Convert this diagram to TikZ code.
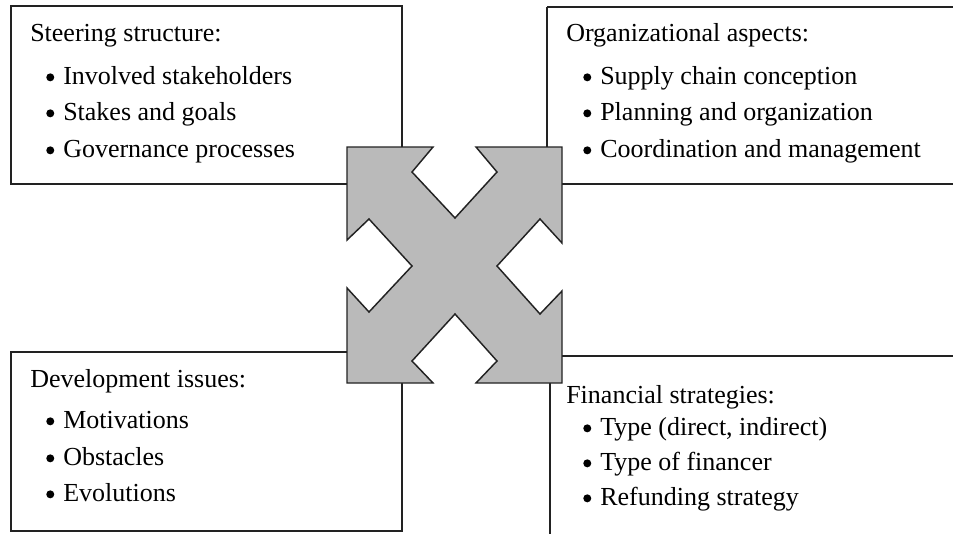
\documentclass[tikz,border=0pt]{standalone}
\usepackage{fontspec}
\setmainfont{Liberation Serif}
\definecolor{crossgray}{HTML}{BABABA}
\definecolor{linec}{HTML}{222222}
\tikzset{
  boxline/.style={draw=linec, line width=1pt},
  crossshape/.style={draw=linec, fill=crossgray, line width=1.1pt, line join=miter},
  txt/.style={anchor=base west, inner sep=0pt, font=\fontsize{19.5}{22}\selectfont, text=black},
}
\newcommand{\bul}{\makebox[17\unitlength][l]{\tikz[baseline=0pt]\fill (3.2pt,5pt) circle (3pt);}}
\setlength{\unitlength}{0.75pt}
\begin{document}
\begin{tikzpicture}[x=0.75pt,y=-0.75pt]
\useasboundingbox (0,0) rectangle (953,533);
\fill[white] (0,0) rectangle (953,533);
% boxes
\draw[boxline] (11,6) rectangle (402,184);
\draw[boxline] (547,7) -- (960,7);
\draw[boxline] (547,7) -- (547,184) -- (960,184);
\draw[boxline] (11,352) rectangle (402,531);
\draw[boxline] (960,356) -- (550,356) -- (550,540);
% cross
\draw[crossshape] (347,147) -- (433,147) -- (412,172) -- (455,218) -- (497,172) -- (476,147) -- (562,147)
  -- (562,243) -- (540,219) -- (497,266) -- (540,314) -- (562,291) -- (562,383)
  -- (476,383) -- (497,361) -- (455,314) -- (412,361) -- (433,383) -- (347,383)
  -- (347,288) -- (369,312) -- (412,266) -- (369,219) -- (347,240) -- cycle;
% top-left text
\node[txt] (t1) at (30,41) {Steering structure:};
\node[txt] (t1a) at (46,84) {\bul Involved stakeholders};
\node[txt] (t1b) at (46,120) {\bul Stakes and goals};
\node[txt] (t1c) at (46,157) {\bul Governance processes};
% top-right text
\node[txt] (t2) at (566,41) {Organizational aspects:};
\node[txt] (t2a) at (583,84) {\bul Supply chain conception};
\node[txt] (t2b) at (583,120) {\bul Planning and organization};
\node[txt] (t2c) at (583,157) {\bul Coordination and management};
% bottom-left text
\node[txt] (t3) at (30,387) {Development issues:};
\node[txt] (t3a) at (46,428) {\bul Motivations};
\node[txt] (t3b) at (46,465) {\bul Obstacles};
\node[txt] (t3c) at (46,501) {\bul Evolutions};
% bottom-right text
\node[txt] (t4) at (566,403) {Financial strategies:};
\node[txt] (t4a) at (583,435) {\bul Type (direct, indirect)};
\node[txt] (t4b) at (583,470) {\bul Type of financer};
\node[txt] (t4c) at (583,505) {\bul Refunding strategy};
\end{tikzpicture}
\end{document}
